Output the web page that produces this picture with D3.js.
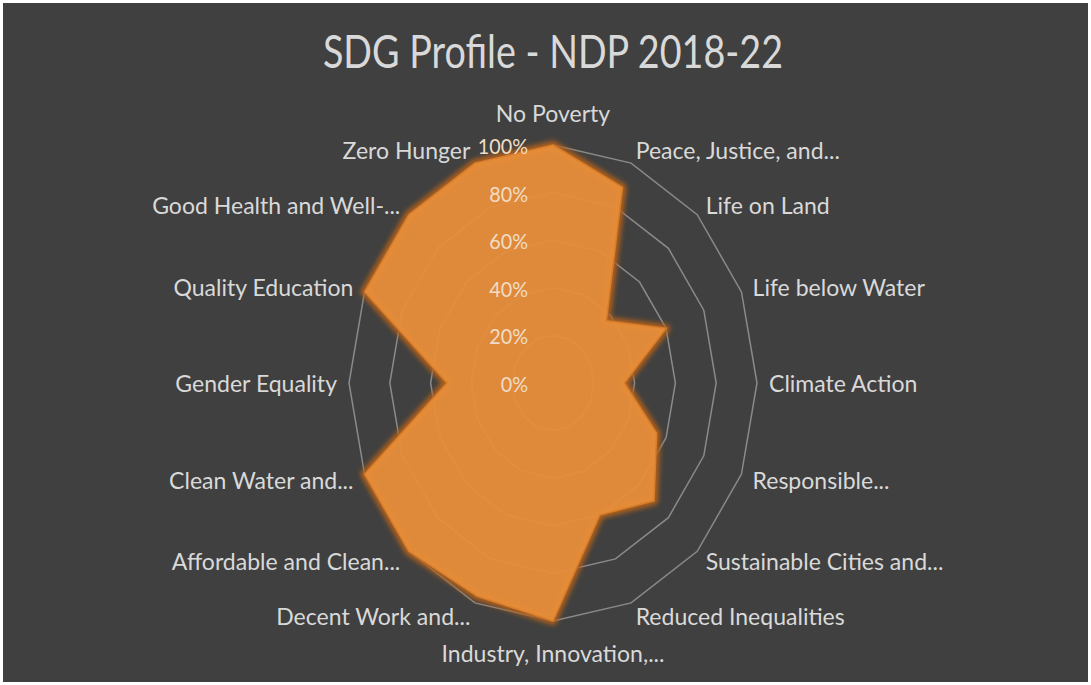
<!DOCTYPE html>
<html>
<head>
<meta charset="utf-8">
<script src="https://cdn.jsdelivr.net/npm/d3@7"></script>
<style>
  body { margin: 0; background: #ffffff; }
  svg { display: block; }
  text { font-family: Lato, "Open Sans", sans-serif; }
</style>
</head>
<body>
<div id="chart"></div>
<script>
// SDG radar (share of targets covered)
var categories = ["No Poverty", "Peace, Justice, and...", "Life on Land", "Life below Water",
	"Climate Action", "Responsible...", "Sustainable Cities and...", "Reduced Inequalities",
	"Industry, Innovation,...", "Decent Work and...", "Affordable and Clean...", "Clean Water and...",
	"Gender Equality", "Quality Education", "Good Health and Well-...", "Zero Hunger"];
var values = [1.0, 0.89, 0.37, 0.6, 0.35, 0.55, 0.7, 0.6, 1.0, 0.97, 1.0, 1.0, 0.52, 1.0, 1.0, 1.0];
var tickValues = [0, 0.2, 0.4, 0.6, 0.8, 1.0];
var title = "SDG Profile - NDP 2018-22";

var width = 1091, height = 685;
var cx = 553, cy = 383;

var svg = d3.select("#chart").append("svg")
	.attr("width", width)
	.attr("height", height);

// picture is a little squashed sideways, so two radial scales
var rx = d3.scaleLinear().domain([0, 1]).range([0, 204]);
var ry = d3.scaleLinear().domain([0, 1]).range([0, 238]);
var angle = d3.scaleLinear().domain([0, categories.length]).range([0, 2 * Math.PI]);

function px(i, v) { return cx + Math.sin(angle(i)) * rx(v); }
function py(i, v) { return cy - Math.cos(angle(i)) * ry(v); }

var defs = svg.append("defs");
var glow = defs.append("filter").attr("id", "glow")
	.attr("x", "-20%").attr("y", "-20%").attr("width", "140%").attr("height", "140%");
glow.append("feGaussianBlur").attr("stdDeviation", 2.5);

svg.append("rect")
	.attr("x", 3).attr("y", 3)
	.attr("width", width - 6).attr("height", height - 6)
	.attr("fill", "#404040");

svg.append("text")
	.attr("transform", "translate(" + cx + ",50) scale(0.82,1)")
	.attr("text-anchor", "middle")
	.attr("dominant-baseline", "central")
	.attr("font-size", 46)
	.attr("fill", "#d9d9d9")
	.text(title);

// gridline rings
var ringLine = d3.line();
svg.append("g").selectAll("path")
	.data(tickValues.filter(function(t) { return t > 0; }))
	.enter().append("path")
	.attr("d", function(t) {
		var pts = categories.map(function(c, i) { return [px(i, t), py(i, t)]; });
		return ringLine(pts) + "Z";
	})
	.attr("fill", "none")
	.attr("stroke", "#8a8a8a")
	.attr("stroke-width", 1.5);

// category labels
svg.append("g").selectAll("text")
	.data(categories)
	.enter().append("text")
	.attr("transform", function(d, i) {
		var s = Math.sin(angle(i)), c = Math.cos(angle(i));
		var extra = Math.abs(s) < 0.01 ? 18 : 0;
		var x = cx + s * (rx(1) + 12);
		var y = cy - c * (ry(1) + 14 + extra);
		return "translate(" + x + "," + y + ") scale(0.96,1)";
	})
	.attr("text-anchor", function(d, i) {
		var s = Math.sin(angle(i));
		return s > 0.01 ? "start" : (s < -0.01 ? "end" : "middle");
	})
	.attr("dominant-baseline", "central")
	.attr("font-size", 24)
	.attr("fill", "#d9d9d9")
	.text(function(d) { return d; });

// data polygon
var pts = values.map(function(v, i) { return [px(i, v), py(i, v)]; });
svg.append("path")
	.attr("d", ringLine(pts) + "Z")
	.attr("fill", "none")
	.attr("stroke", "#b0601a")
	.attr("stroke-width", 8)
	.attr("stroke-linejoin", "round")
	.attr("filter", "url(#glow)");
svg.append("path")
	.attr("d", ringLine(pts) + "Z")
	.attr("fill", "#e88e3a")
	.attr("fill-opacity", 0.95)
	.attr("stroke", "#d87d2a")
	.attr("stroke-width", 1.5);

// radial axis tick labels
svg.append("g").selectAll("text")
	.data(tickValues)
	.enter().append("text")
	.attr("transform", function(t) {
		return "translate(" + (cx - 25) + "," + (cy - ry(t)) + ") scale(0.9,1)";
	})
	.attr("text-anchor", "end")
	.attr("dominant-baseline", "central")
	.attr("font-size", 22)
	.attr("fill", "#f0dcc6")
	.text(d3.format(".0%"));
</script>
</body>
</html>
